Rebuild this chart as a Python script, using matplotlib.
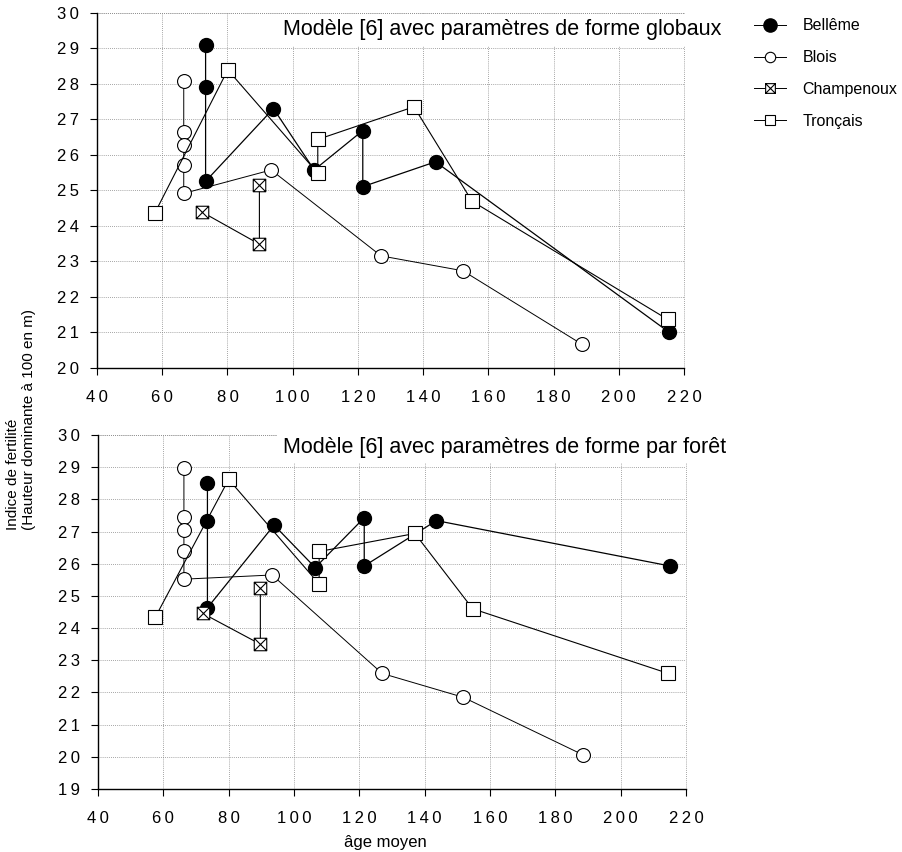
import matplotlib
matplotlib.use("Agg")
import matplotlib.pyplot as plt
from matplotlib.path import Path
from matplotlib.lines import Line2D

plt.rcParams['font.family'] = ['Liberation Sans', 'DejaVu Sans']

# ---- data (top panel: global shape parameters) ----
g_belleme_x = [73.3, 73.3, 73.3, 94.1, 106.6, 121.5, 121.5, 143.8, 215.4]
g_belleme_y = [29.1, 27.9, 25.25, 27.3, 25.57, 26.68, 25.1, 25.8, 21.0]
g_blois_x = [66.6, 66.6, 66.6, 66.6, 66.6, 93.4, 127.1, 152.2, 188.7]
g_blois_y = [28.08, 26.64, 26.28, 25.72, 24.91, 25.57, 23.15, 22.73, 20.66]
g_champ_x = [72.1, 89.8, 89.8]
g_champ_y = [24.39, 23.48, 25.16]
g_tronc_x = [57.7, 80.1, 107.7, 107.7, 137.2, 155.0, 215.0]
g_tronc_y = [24.35, 28.39, 25.48, 26.43, 27.35, 24.69, 21.36]

# ---- data (bottom panel: per-forest shape parameters) ----
f_belleme_x = [73.5, 73.5, 73.5, 93.9, 106.5, 121.5, 121.5, 143.6, 215.1]
f_belleme_y = [28.52, 27.34, 24.63, 27.2, 25.88, 27.43, 25.93, 27.34, 25.93]
f_blois_x = [66.3, 66.3, 66.3, 66.3, 66.3, 93.3, 127.0, 151.8, 188.5]
f_blois_y = [28.98, 27.44, 27.05, 26.38, 25.52, 25.65, 22.59, 21.85, 20.06]
f_champ_x = [72.0, 89.7, 89.7]
f_champ_y = [24.46, 23.5, 25.24]
f_tronc_x = [57.6, 80.0, 107.7, 107.7, 137.0, 154.7, 214.6]
f_tronc_y = [24.35, 28.62, 25.37, 26.38, 26.94, 24.6, 22.59]

series_names = ["Bellême", "Blois", "Champenoux", "Tronçais"]
titles = ["Modèle [6] avec paramètres de forme globaux",
          "Modèle [6] avec paramètres de forme par forêt"]
x_ticks = [40, 60, 80, 100, 120, 140, 160, 180, 200, 220]
y_ticks_top = [20, 21, 22, 23, 24, 25, 26, 27, 28, 29, 30]
y_ticks_bot = [19, 20, 21, 22, 23, 24, 25, 26, 27, 28, 29, 30]
ylabel = "Indice de fertilité\n(Hauteur dominante à 100 en m)"
xlabel = "âge moyen"

# square with an X inside
boxx = Path([(-1, -1), (1, -1), (1, 1), (-1, 1), (-1, -1),
             (-1, -1), (1, 1), (-1, 1), (1, -1)],
            [Path.MOVETO, Path.LINETO, Path.LINETO, Path.LINETO, Path.CLOSEPOLY,
             Path.MOVETO, Path.LINETO, Path.MOVETO, Path.LINETO])

styles = [
    dict(marker='o', markersize=10, markerfacecolor='black', markeredgecolor='black', lw=0.9),
    dict(marker='o', markersize=10, markerfacecolor='white', markeredgecolor='black', markeredgewidth=0.8, lw=0.7),
    dict(marker=boxx, markersize=9, markerfacecolor='white', markeredgecolor='black', markeredgewidth=0.8, lw=0.8),
    dict(marker='s', markersize=10, markerfacecolor='white', markeredgecolor='black', markeredgewidth=0.8, lw=0.8),
]
legend_msize = [9.5, 7.5, 7, 7.5]

def spaced(v):
    return "\u2009".join(str(v))

fig = plt.figure(figsize=(9.02, 8.52), dpi=100)
ax1 = fig.add_axes([97/902, 1-367.7/852, (684-97)/902, (367.7-12.7)/852])
ax2 = fig.add_axes([98/902, 1-789/852, (686-98)/902, (789-435)/852])

panels = [
    (ax1, [(g_belleme_x, g_belleme_y), (g_blois_x, g_blois_y), (g_champ_x, g_champ_y), (g_tronc_x, g_tronc_y)], y_ticks_top, 30/852),
    (ax2, [(f_belleme_x, f_belleme_y), (f_blois_x, f_blois_y), (f_champ_x, f_champ_y), (f_tronc_x, f_tronc_y)], y_ticks_bot, 447/852),
]

grid_style = dict(linestyle=(0, (1, 1.5)), color='#888888', lw=0.6)

for i, (ax, data, yt, ty) in enumerate(panels):
    order = [1, 2, 3, 0]
    for k in order:
        xs, ys = data[k]
        ax.plot(xs, ys, color='black', clip_on=False, zorder=3 + k, **styles[k])
    ax.set_xlim(40, 220)
    ax.set_ylim(yt[0], yt[-1])
    ax.set_xticks(x_ticks)
    ax.set_xticklabels([spaced(v) for v in x_ticks], fontsize=12)
    ax.set_yticks(yt)
    ax.set_yticklabels([spaced(v) for v in yt], fontsize=12)
    ax.grid(True, **grid_style)
    for s in ['top', 'right']:
        ax.spines[s].set_visible(False)
    for s in ['left', 'bottom']:
        ax.spines[s].set_linewidth(1.0)
    ax.tick_params(axis='x', direction='out', length=5, width=0.8, pad=11)
    ax.tick_params(axis='y', direction='out', length=5, width=0.8, pad=8)
    # outer dotted frame lines
    ax.axhline(yt[-1], clip_on=False, **grid_style)
    ax.axvline(220, clip_on=False, **grid_style)
    fig.text(283/902, 1 - ty, titles[i], fontsize=15.5, ha='left', va='center',
             bbox=dict(facecolor='white', edgecolor='none', pad=4), zorder=20)

fig.text(385/902, 1 - 842/852, xlabel, fontsize=12, ha='center', va='center')
fig.text(21/902, 1 - 420/852, ylabel, rotation=90, ha='center', va='center',
         fontsize=11, multialignment='left', linespacing=1.25)

handles = []
for k in range(4):
    st = dict(styles[k])
    st['markersize'] = legend_msize[k]
    st['lw'] = 0.7
    handles.append(Line2D([], [], color='black', **st))
fig.legend(handles, series_names, loc='upper left', bbox_to_anchor=(748/902, 1 - 12/852),
           frameon=False, fontsize=11.5, handlelength=2.0, labelspacing=1.05,
           handletextpad=1.0, borderaxespad=0)

fig.savefig("out.png", dpi=100)
